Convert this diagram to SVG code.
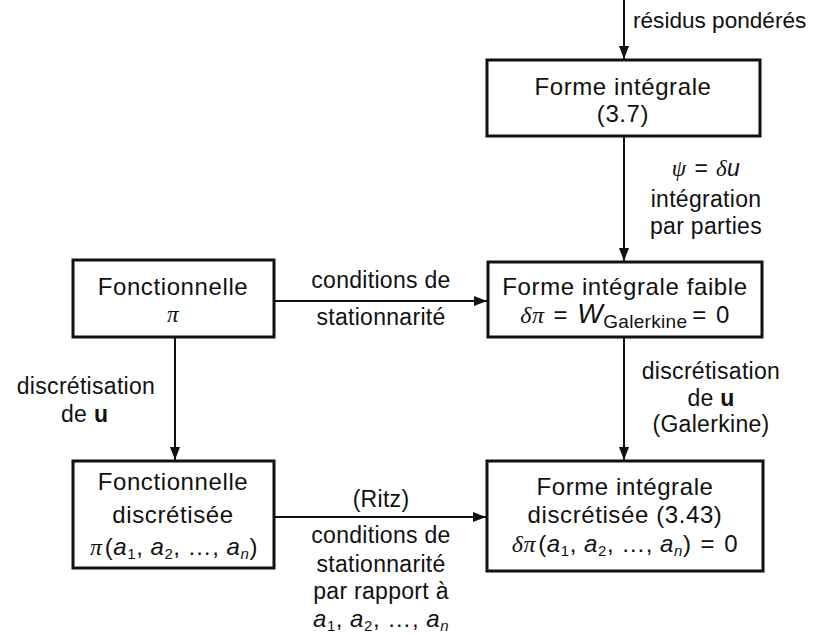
<svg xmlns="http://www.w3.org/2000/svg" width="825" height="635" viewBox="0 0 825 635">
  <style>
    text { font-family: "Liberation Sans", Arial, sans-serif; font-size: 23px; letter-spacing: 0.3px; fill: #111; }
    .c { text-anchor: middle; }
    .n { font-size: 24px; letter-spacing: 0.6px; }
    .m { font-family: "Liberation Serif", "Times New Roman", serif; font-style: italic; }
    .v { font-style: italic; }
    .b { font-weight: bold; }
    .sub { font-size: 15px; }
    .box { fill: #fff; stroke: #111; stroke-width: 3; }
    .wire { fill: none; stroke: #111; stroke-width: 2; }
  </style>
  <defs>
    <marker id="arrow" markerUnits="userSpaceOnUse" markerWidth="14" markerHeight="12" refX="13" refY="5" orient="auto">
      <path d="M0,0 L13,5 L0,10 z" fill="#111"/>
    </marker>
  </defs>

  <!-- connectors and their labels -->
  <g id="connectors">
    <line class="wire" x1="624" y1="0" x2="624" y2="59" marker-end="url(#arrow)"/>
    <line class="wire" x1="624" y1="136" x2="624" y2="261" marker-end="url(#arrow)"/>
    <line class="wire" x1="274" y1="301" x2="487" y2="301" marker-end="url(#arrow)"/>
    <line class="wire" x1="175" y1="337" x2="175" y2="460" marker-end="url(#arrow)"/>
    <line class="wire" x1="624" y1="337" x2="624" y2="460" marker-end="url(#arrow)"/>
    <line class="wire" x1="274" y1="517" x2="486" y2="517" marker-end="url(#arrow)"/>

    <text x="633" y="28" style="font-size:22.6px;letter-spacing:0">résidus pondérés</text>

    <text class="c" x="706" y="176"><tspan class="m">ψ</tspan><tspan dx="8">=</tspan><tspan class="m" dx="8">δ</tspan><tspan class="v">u</tspan></text>
    <text class="c" x="706" y="207">intégration</text>
    <text class="c" x="706" y="234">par parties</text>

    <text class="c" x="381" y="288">conditions de</text>
    <text class="c" x="381" y="325">stationnarité</text>

    <text class="c" x="86" y="394">discrétisation</text>
    <text x="61" y="422">de <tspan class="b">u</tspan></text>

    <text class="c" x="711" y="379">discrétisation</text>
    <text class="c" x="711" y="406">de <tspan class="b">u</tspan></text>
    <text class="c" x="711" y="432">(Galerkine)</text>

    <text class="c" x="381" y="507">(Ritz)</text>
    <text class="c" x="381" y="543">conditions de</text>
    <text class="c" x="381" y="572">stationnarité</text>
    <text class="c" x="381" y="599">par rapport à</text>
    <text class="c n" x="381" y="627"><tspan class="v">a</tspan><tspan class="sub" dy="4">1</tspan><tspan dy="-4">,</tspan><tspan class="v" dx="7">a</tspan><tspan class="sub" dy="4">2</tspan><tspan dy="-4">,</tspan><tspan dx="7">…,</tspan><tspan class="v" dx="7">a</tspan><tspan class="sub v" dy="4">n</tspan></text>
  </g>

  <g id="forme-integrale">
    <rect class="box" x="487" y="60" width="273" height="76"/>
    <text class="c n" x="623" y="95">Forme intégrale</text>
    <text class="c n" x="623" y="122">(3.7)</text>
  </g>

  <g id="forme-integrale-faible">
    <rect class="box" x="488" y="262" width="274" height="75"/>
    <text class="c n" x="625" y="295">Forme intégrale faible</text>
    <text class="c n" x="625" y="323"><tspan class="m">δπ</tspan><tspan dx="9">=</tspan><tspan class="v" dx="9" style="font-size:27px">W</tspan><tspan style="font-size:19px;letter-spacing:0.3px" dy="5">Galerkine</tspan><tspan dy="-5" dx="5">=</tspan><tspan dx="9">0</tspan></text>
  </g>

  <g id="fonctionnelle">
    <rect class="box" x="73" y="260" width="201" height="77"/>
    <text class="c n" x="173" y="295">Fonctionnelle</text>
    <text class="c m" x="173" y="322" font-size="19">π</text>
  </g>

  <g id="fonctionnelle-discretisee">
    <rect class="box" x="73" y="461" width="201" height="107"/>
    <text class="c n" x="173" y="490">Fonctionnelle</text>
    <text class="c n" x="173" y="523">discrétisée</text>
    <text class="c n" x="174" y="555"><tspan class="m">π</tspan><tspan dx="2">(</tspan><tspan class="v">a</tspan><tspan class="sub" dy="4">1</tspan><tspan dy="-4">,</tspan><tspan class="v" dx="7">a</tspan><tspan class="sub" dy="4">2</tspan><tspan dy="-4">,</tspan><tspan dx="7">…,</tspan><tspan class="v" dx="7">a</tspan><tspan class="sub v" dy="4">n</tspan><tspan dy="-4">)</tspan></text>
  </g>

  <g id="forme-integrale-discretisee">
    <rect class="box" x="487" y="461" width="276" height="110"/>
    <text class="c n" x="625" y="495">Forme intégrale</text>
    <text class="c n" x="625" y="523">discrétisée (3.43)</text>
    <text class="c n" x="625" y="552"><tspan class="m">δπ</tspan><tspan dx="2">(</tspan><tspan class="v">a</tspan><tspan class="sub" dy="4">1</tspan><tspan dy="-4">,</tspan><tspan class="v" dx="7">a</tspan><tspan class="sub" dy="4">2</tspan><tspan dy="-4">,</tspan><tspan dx="7">…,</tspan><tspan class="v" dx="7">a</tspan><tspan class="sub v" dy="4">n</tspan><tspan dy="-4">)</tspan><tspan dx="9">=</tspan><tspan dx="9">0</tspan></text>
  </g>
</svg>
